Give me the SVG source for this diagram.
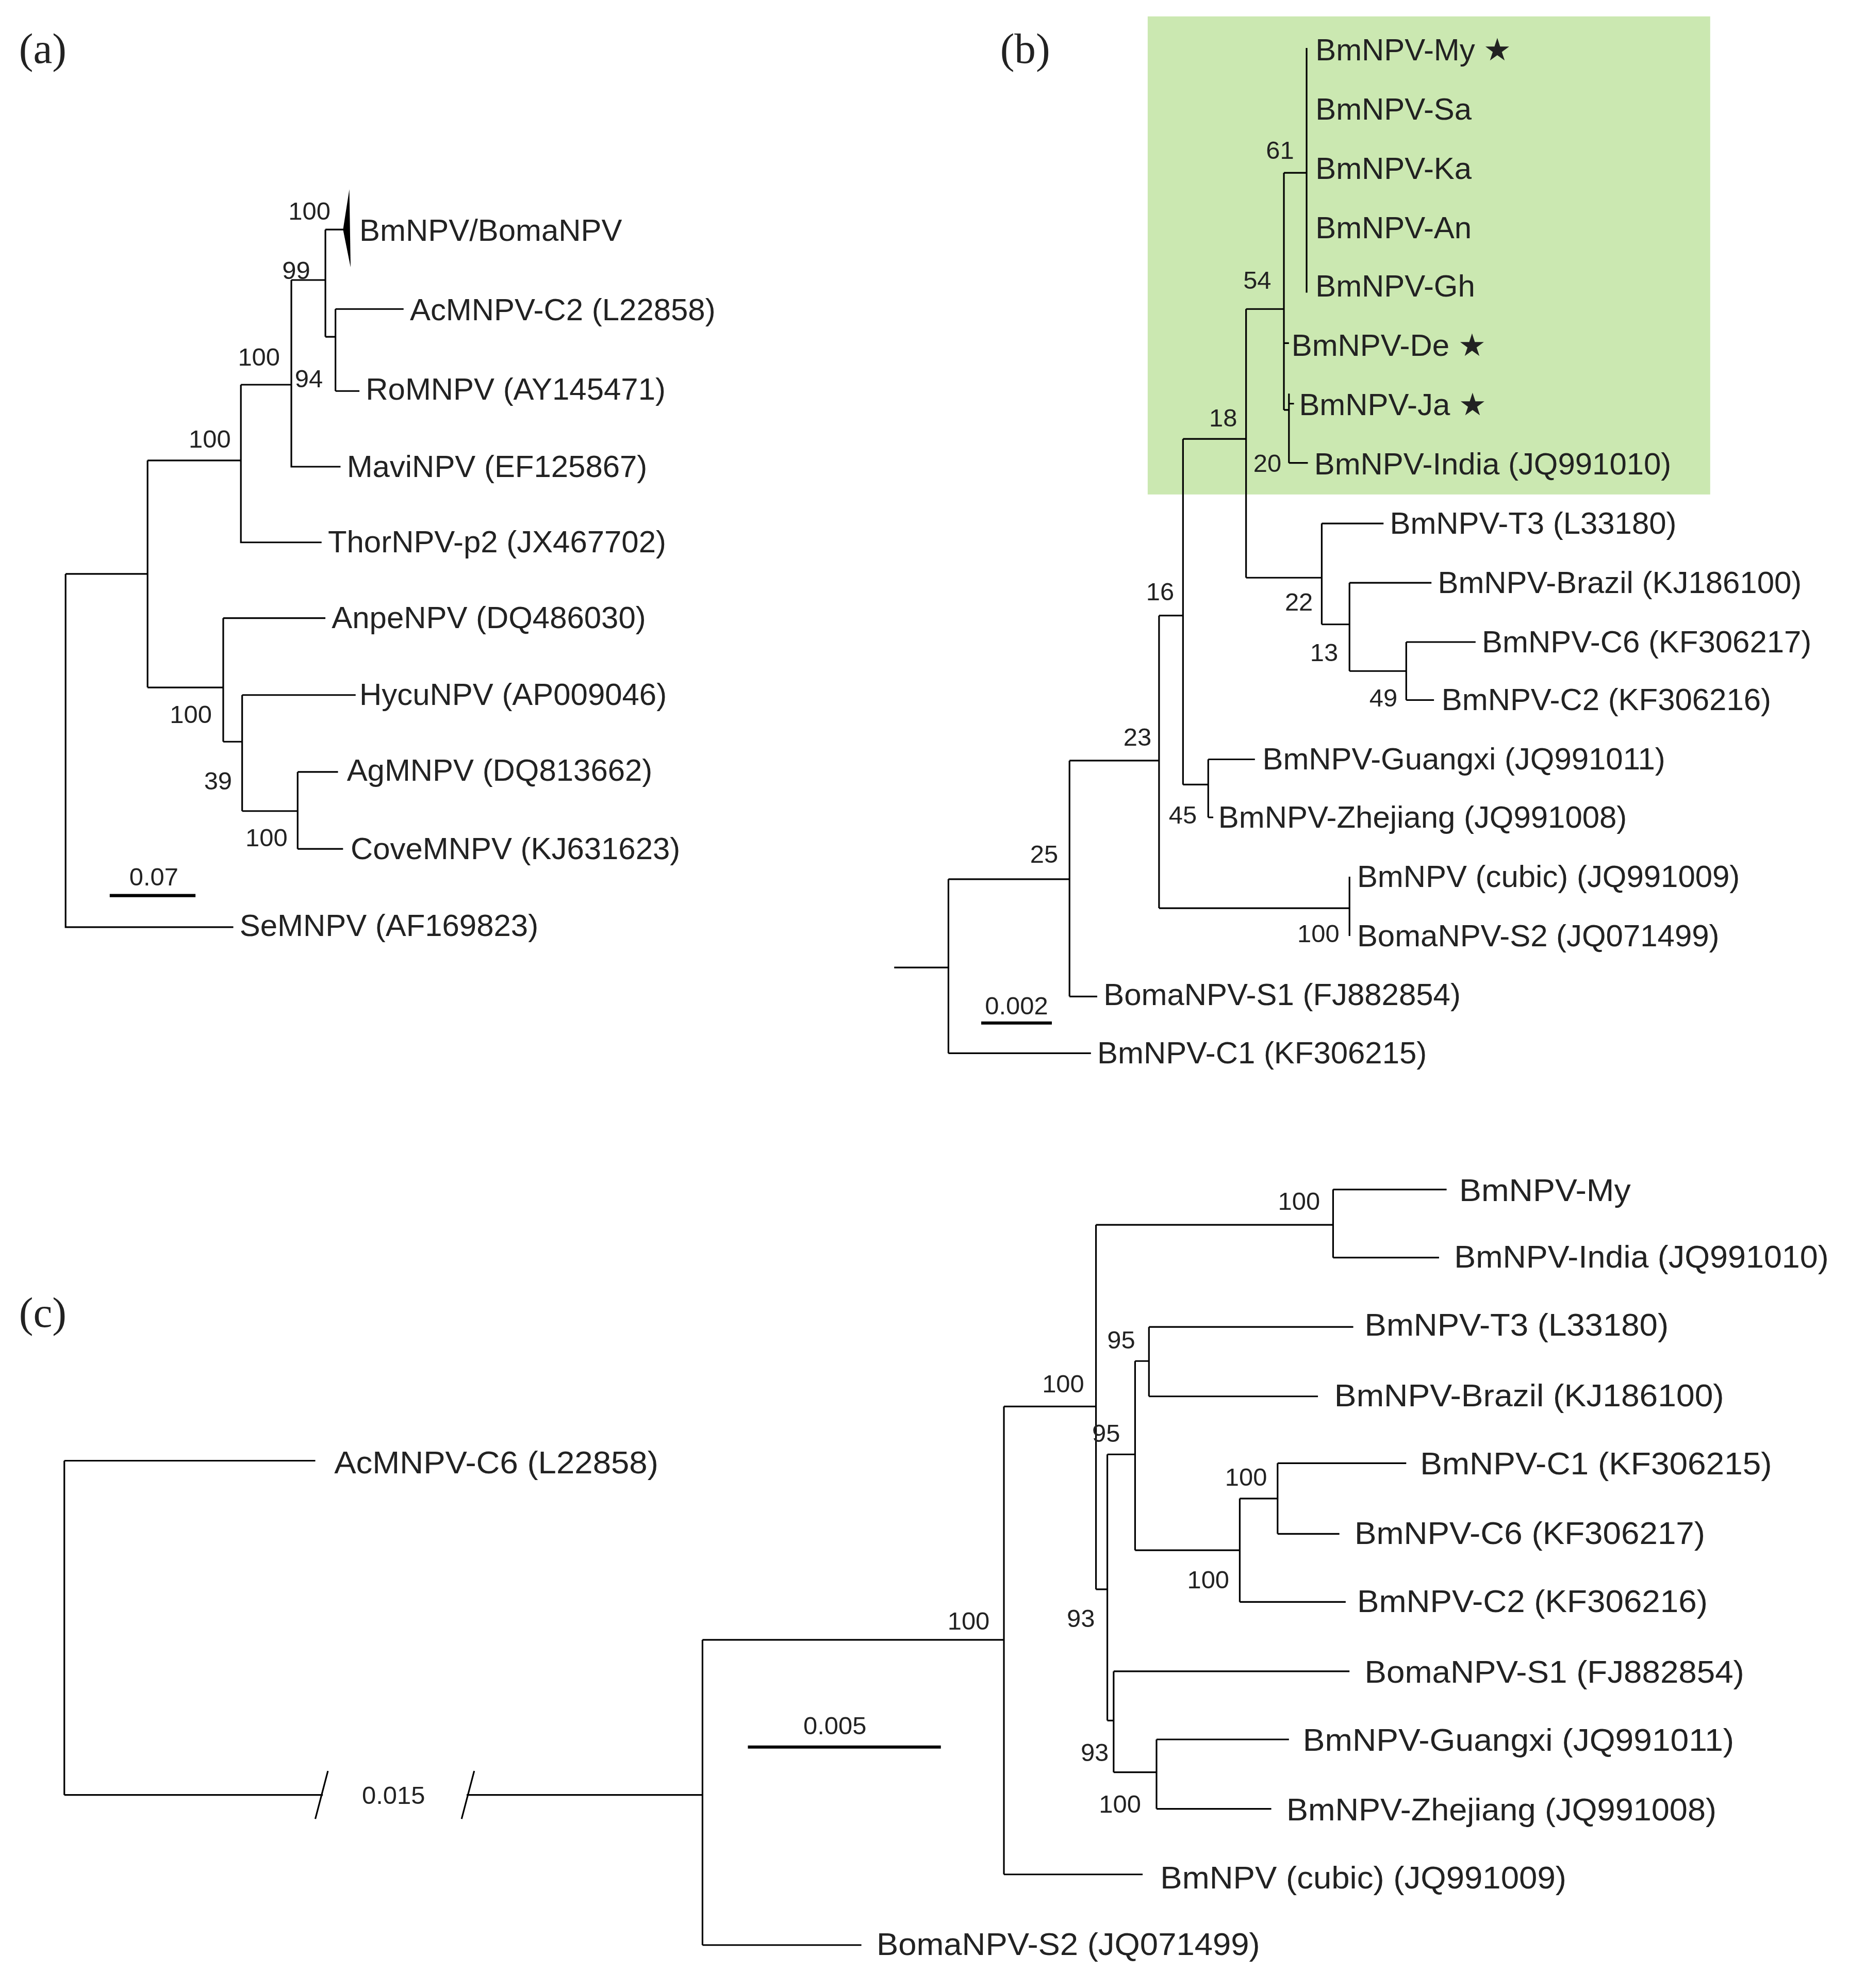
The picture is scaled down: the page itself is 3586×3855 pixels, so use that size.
<svg xmlns="http://www.w3.org/2000/svg" width="3586" height="3855" viewBox="0 0 3586 3855">
<style>
.l{fill:none;stroke:#000;stroke-width:1.3}
.t{font-family:"Liberation Sans",Arial,sans-serif;font-size:24.5px;fill:#222}
.n{font-family:"Liberation Sans",Arial,sans-serif;font-size:20px;fill:#222}
.c{font-family:"Liberation Sans",Arial,sans-serif;font-size:25px;fill:#222}
.p{font-family:"Liberation Serif","Times New Roman",serif;font-size:34px;fill:#222}
</style>
<rect width="3586" height="3855" fill="#fff"/>
<g transform="scale(2.446)">
<rect x="910" y="13" width="446" height="379" fill="#cbe8b1"/>
<g id="edges">
<!-- panel a -->
<path class="l" d="M52,455V735H185M52,455H117M117,365V545M117,365H191M191,305V430H255M191,305H231M231,222V370H270M231,222H258M258,182V267M258,182H273M258,267H266M266,245V310M266,245H320M266,310H285M117,545H177M177,490V588M177,490H258M177,588H192M192,551V643M192,551H282M192,643H236M236,612V673M236,612H268M236,673H272"/>
<polygon points="272,182 277,150 278,212" fill="#000"/>
<path d="M87,710H155" stroke="#000" stroke-width="2.5"/>
<!-- panel b -->
<path class="l" d="M709,767H752M752,697V835M752,835H865M752,697H848M848,603V790M848,790H870M848,603H919M919,488V720M919,720H1070M1070,695V742M919,488H938M938,348V622M938,622H958M958,602V648M958,602H995M958,648H962M938,348H988M988,245V458M988,458H1048M1048,415V495M1048,415H1097M1048,495H1070M1070,462V532M1070,462H1135M1070,532H1115M1115,509V555M1115,509H1170M1115,555H1137M988,245H1018M1018,137V325M1018,137H1036M1036,38V232M1018,272H1022M1018,325H1022M1022,312V367M1022,320H1026M1022,367H1037"/>
<path d="M778,811H834" stroke="#000" stroke-width="2.5"/>
<!-- panel c -->
<path class="l" d="M51,1158V1423M51,1158H250M51,1423H256M370,1423H557M250,1442L260,1404M366,1442L376,1404M557,1300V1542M557,1542H683M557,1300H796M796,1115V1486M796,1486H906M796,1115H869M869,971V1260M869,971H1057M1057,943V997M1057,943H1147M1057,997H1141M869,1260H878M878,1153V1364M878,1153H900M900,1079V1229M900,1079H911M911,1052V1107M911,1052H1073M911,1107H1045M900,1229H983M983,1188V1270M983,1188H1013M1013,1160V1216M1013,1160H1115M1013,1216H1062M983,1270H1067M878,1364H883M883,1325V1405M883,1325H1070M883,1405H917M917,1379V1434M917,1379H1022M917,1434H1008"/>
<path d="M593,1385H746" stroke="#000" stroke-width="2.5"/>
</g>
<g id="panel-a">
<text class="p" x="15" y="50">(a)</text>
<text class="t" x="285" y="191">BmNPV/BomaNPV</text>
<text class="t" x="325" y="254">AcMNPV-C2 (L22858)</text>
<text class="t" x="290" y="317">RoMNPV (AY145471)</text>
<text class="t" x="275" y="378">MaviNPV (EF125867)</text>
<text class="t" x="260" y="438">ThorNPV-p2 (JX467702)</text>
<text class="t" x="263" y="498">AnpeNPV (DQ486030)</text>
<text class="t" x="285" y="559">HycuNPV (AP009046)</text>
<text class="t" x="275" y="619">AgMNPV (DQ813662)</text>
<text class="t" x="278" y="681">CoveMNPV (KJ631623)</text>
<text class="t" x="190" y="742">SeMNPV (AF169823)</text>
<text class="n" x="262" y="174" text-anchor="end">100</text>
<text class="n" x="246" y="221" text-anchor="end">99</text>
<text class="n" x="256" y="307" text-anchor="end">94</text>
<text class="n" x="222" y="290" text-anchor="end">100</text>
<text class="n" x="183" y="355" text-anchor="end">100</text>
<text class="n" x="168" y="573" text-anchor="end">100</text>
<text class="n" x="184" y="626" text-anchor="end">39</text>
<text class="n" x="228" y="671" text-anchor="end">100</text>
<text class="n" x="122" y="702" text-anchor="middle">0.07</text>
</g>
<g id="panel-b">
<text class="p" x="793" y="50">(b)</text>
<text class="t" x="1043" y="48">BmNPV-My ★</text>
<text class="t" x="1043" y="95">BmNPV-Sa</text>
<text class="t" x="1043" y="142">BmNPV-Ka</text>
<text class="t" x="1043" y="189">BmNPV-An</text>
<text class="t" x="1043" y="235">BmNPV-Gh</text>
<text class="t" x="1024" y="282">BmNPV-De  ★</text>
<text class="t" x="1030" y="329">BmNPV-Ja  ★</text>
<text class="t" x="1042" y="376">BmNPV-India (JQ991010)</text>
<text class="t" x="1102" y="423">BmNPV-T3 (L33180)</text>
<text class="t" x="1140" y="470">BmNPV-Brazil (KJ186100)</text>
<text class="t" x="1175" y="517">BmNPV-C6 (KF306217)</text>
<text class="t" x="1143" y="563">BmNPV-C2 (KF306216)</text>
<text class="t" x="1001" y="610">BmNPV-Guangxi (JQ991011)</text>
<text class="t" x="966" y="656">BmNPV-Zhejiang (JQ991008)</text>
<text class="t" x="1076" y="703">BmNPV (cubic) (JQ991009)</text>
<text class="t" x="1076" y="750">BomaNPV-S2 (JQ071499)</text>
<text class="t" x="875" y="797">BomaNPV-S1 (FJ882854)</text>
<text class="t" x="870" y="843">BmNPV-C1 (KF306215)</text>
<text class="n" x="1026" y="126" text-anchor="end">61</text>
<text class="n" x="1008" y="229" text-anchor="end">54</text>
<text class="n" x="1016" y="374" text-anchor="end">20</text>
<text class="n" x="981" y="338" text-anchor="end">18</text>
<text class="n" x="1041" y="484" text-anchor="end">22</text>
<text class="n" x="1061" y="524" text-anchor="end">13</text>
<text class="n" x="1108" y="560" text-anchor="end">49</text>
<text class="n" x="931" y="476" text-anchor="end">16</text>
<text class="n" x="949" y="653" text-anchor="end">45</text>
<text class="n" x="913" y="591" text-anchor="end">23</text>
<text class="n" x="1062" y="747" text-anchor="end">100</text>
<text class="n" x="839" y="684" text-anchor="end">25</text>
<text class="n" x="806" y="804" text-anchor="middle">0.002</text>
</g>
<g id="panel-c">
<text class="p" x="15" y="1052">(c)</text>
<text class="c" x="1157" y="952" textLength="136" lengthAdjust="spacingAndGlyphs">BmNPV-My</text>
<text class="c" x="1153" y="1005" textLength="297" lengthAdjust="spacingAndGlyphs">BmNPV-India (JQ991010)</text>
<text class="c" x="1082" y="1059" textLength="241" lengthAdjust="spacingAndGlyphs">BmNPV-T3 (L33180)</text>
<text class="c" x="1058" y="1115" textLength="309" lengthAdjust="spacingAndGlyphs">BmNPV-Brazil (KJ186100)</text>
<text class="c" x="1126" y="1169" textLength="279" lengthAdjust="spacingAndGlyphs">BmNPV-C1 (KF306215)</text>
<text class="c" x="1074" y="1224" textLength="278" lengthAdjust="spacingAndGlyphs">BmNPV-C6 (KF306217)</text>
<text class="c" x="1076" y="1278" textLength="278" lengthAdjust="spacingAndGlyphs">BmNPV-C2 (KF306216)</text>
<text class="c" x="1082" y="1334" textLength="301" lengthAdjust="spacingAndGlyphs">BomaNPV-S1 (FJ882854)</text>
<text class="c" x="1033" y="1388" textLength="342" lengthAdjust="spacingAndGlyphs">BmNPV-Guangxi (JQ991011)</text>
<text class="c" x="1020" y="1443" textLength="341" lengthAdjust="spacingAndGlyphs">BmNPV-Zhejiang (JQ991008)</text>
<text class="c" x="920" y="1497" textLength="322" lengthAdjust="spacingAndGlyphs">BmNPV (cubic) (JQ991009)</text>
<text class="c" x="695" y="1550" textLength="304" lengthAdjust="spacingAndGlyphs">BomaNPV-S2 (JQ071499)</text>
<text class="c" x="265" y="1168" textLength="257" lengthAdjust="spacingAndGlyphs">AcMNPV-C6 (L22858)</text>
<text class="n" x="1030" y="959" text-anchor="middle">100</text>
<text class="n" x="889" y="1069" text-anchor="middle">95</text>
<text class="n" x="843" y="1104" text-anchor="middle">100</text>
<text class="n" x="877" y="1143" text-anchor="middle">95</text>
<text class="n" x="988" y="1178" text-anchor="middle">100</text>
<text class="n" x="958" y="1259" text-anchor="middle">100</text>
<text class="n" x="857" y="1290" text-anchor="middle">93</text>
<text class="n" x="868" y="1396" text-anchor="middle">93</text>
<text class="n" x="888" y="1437" text-anchor="middle">100</text>
<text class="n" x="768" y="1292" text-anchor="middle">100</text>
<text class="n" x="662" y="1375" text-anchor="middle">0.005</text>
<text class="n" x="312" y="1430" text-anchor="middle">0.015</text>
</g>
</g>
</svg>
